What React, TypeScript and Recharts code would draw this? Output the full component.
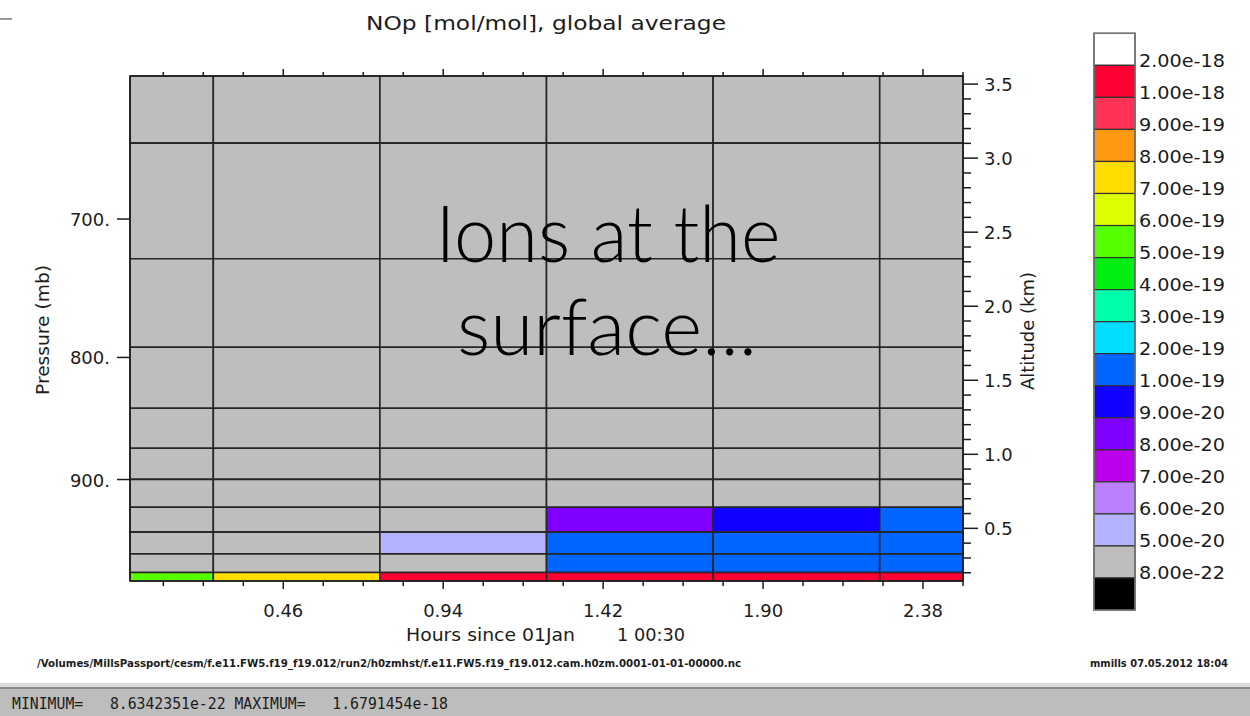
import React from 'react';
import { ComposedChart, XAxis, YAxis, ReferenceArea, Scatter } from 'recharts';

// ---------- text ----------
const chartTitle = 'NOp [mol/mol], global average';
const leftAxisTitle = 'Pressure (mb)';
const rightAxisTitle = 'Altitude (km)';
const xAxisTitleA = 'Hours since 01Jan';
const xAxisTitleB = '1 00:30';
const filePath = '/Volumes/MillsPassport/cesm/f.e11.FW5.f19_f19.012/run2/h0zmhst/f.e11.FW5.f19_f19.012.cam.h0zm.0001-01-01-00000.nc';
const stamp = 'mmills 07.05.2012 18:04';
const minMaxLine = 'MINIMUM=   8.6342351e-22 MAXIMUM=   1.6791454e-18';
const overlayLine1 = 'Ions at the';
const overlayLine2 = 'surface...';

// ---------- data ----------
const timesHours = [0, 0.5, 1.0, 1.5, 2.0, 2.5];
const levelsHPa = [609.78, 691.39, 763.4, 820.86, 859.53, 887.02, 912.64, 936.2, 957.49, 976.33, 992.56];

const nopT000 = [8.6342351e-22, 9.1e-22, 1.0e-21, 1.2e-21, 1.5e-21, 1.9e-21, 2.6e-21, 3.8e-21, 6.1e-21, 1.1e-20, 5.5e-19];
const nopT050 = [9.0e-22, 9.6e-22, 1.1e-21, 1.4e-21, 1.8e-21, 2.4e-21, 3.5e-21, 5.6e-21, 1.0e-20, 2.1e-20, 7.6e-19];
const nopT100 = [9.3e-22, 1.0e-21, 1.2e-21, 1.6e-21, 2.2e-21, 3.1e-21, 5.0e-21, 2.1e-20, 5.4e-20, 4.3e-20, 1.25e-18];
const nopT150 = [9.6e-22, 1.1e-21, 1.4e-21, 1.9e-21, 2.7e-21, 4.0e-21, 3.2e-20, 8.5e-20, 1.3e-19, 1.2e-19, 1.46e-18];
const nopT200 = [1.0e-21, 1.2e-21, 1.5e-21, 2.2e-21, 3.2e-21, 5.1e-21, 4.1e-20, 9.4e-20, 1.5e-19, 1.4e-19, 1.6e-18];
const nopT250 = [1.0e-21, 1.3e-21, 1.7e-21, 2.5e-21, 3.8e-21, 6.3e-21, 4.6e-20, 1.05e-19, 1.6e-19, 1.5e-19, 1.6791454e-18];
const nopByTime = [nopT000, nopT050, nopT100, nopT150, nopT200, nopT250];

// ---------- ticks ----------
const xMajorTicks = [0.46, 0.94, 1.42, 1.9, 2.38];
const xMinorTicks = [0.1, 0.22, 0.34, 0.58, 0.7, 0.82, 1.06, 1.18, 1.3, 1.54, 1.66, 1.78, 2.02, 2.14, 2.26, 2.5];
const pressureTicks = [700, 800, 900];
const altMajorTicks = [0.5, 1.0, 1.5, 2.0, 2.5, 3.0, 3.5];
const altMinorTicks = [0.2, 0.3, 0.4, 0.6, 0.7, 0.8, 0.9, 1.1, 1.2, 1.3, 1.4, 1.6, 1.7, 1.8, 1.9, 2.1, 2.2, 2.3, 2.4, 2.6, 2.7, 2.8, 2.9, 3.1, 3.2, 3.3, 3.4];

// ---------- colour scale ----------
const shadeBounds = [8e-22, 5e-20, 6e-20, 7e-20, 8e-20, 9e-20, 1e-19, 2e-19, 3e-19, 4e-19, 5e-19, 6e-19, 7e-19, 8e-19, 9e-19, 1e-18, 2e-18];
const shadeLabels = ['8.00e-22', '5.00e-20', '6.00e-20', '7.00e-20', '8.00e-20', '9.00e-20', '1.00e-19', '2.00e-19', '3.00e-19', '4.00e-19', '5.00e-19', '6.00e-19', '7.00e-19', '8.00e-19', '9.00e-19', '1.00e-18', '2.00e-18'];
const shadeColors = ['#000000', '#bebebe', '#b3b3ff', '#bb80ff', '#bb00ee', '#8000ff', '#1100ff', '#0066ff', '#00ddff', '#00ffaa', '#00ee11', '#55ff00', '#ddff00', '#ffdd00', '#ff9911', '#ff3355', '#ff0033', '#ffffff'];

// ---------- helpers ----------
const SCALE_HEIGHT_KM = 7;
const P_REF = 1013.25;
const toAlt = (p: number) => SCALE_HEIGHT_KM * Math.log(P_REF / p);
const toPres = (z: number) => P_REF * Math.exp(-z / SCALE_HEIGHT_KM);

const colorFor = (v: number) => {
  let k = 0;
  for (const b of shadeBounds) if (v >= b) k++;
  return shadeColors[k];
};

const INK = '#1c1c1c';
const GRID = '#262626';
const FONT = '"DejaVu Sans", sans-serif';

const altBottom = toAlt(levelsHPa[levelsHPa.length - 1]);
const altTop = toAlt(levelsHPa[0]);
const xDomain: [number, number] = [timesHours[0], timesHours[timesHours.length - 1]];
const yDomain: [number, number] = [altBottom, altTop];

type Cell = { x1: number; x2: number; y1: number; y2: number; fill: string; cx: number; cy: number };
const cells: Cell[] = [];
timesHours.forEach((t, i) => {
  const x1 = i === 0 ? t : (timesHours[i - 1] + t) / 2;
  const x2 = i === timesHours.length - 1 ? t : (t + timesHours[i + 1]) / 2;
  levelsHPa.forEach((p, j) => {
    const pTop = j === 0 ? p : (levelsHPa[j - 1] + p) / 2;
    const pBot = j === levelsHPa.length - 1 ? p : (p + levelsHPa[j + 1]) / 2;
    cells.push({ x1, x2, y1: toAlt(pBot), y2: toAlt(pTop), fill: colorFor(nopByTime[i][j]), cx: t, cy: toAlt(p) });
  });
});

const near = (a: number, list: number[]) => list.some((b) => Math.abs(a - b) < 1e-6);
const xAllTicks = [...xMajorTicks, ...xMinorTicks].sort((a, b) => a - b);
const altAllTicks = [...altMajorTicks, ...altMinorTicks].sort((a, b) => a - b);

const BottomTick = (props: any) => {
  const { x, y, payload } = props;
  const major = near(payload.value, xMajorTicks);
  return (
    <g>
      <line x1={x} y1={y} x2={x} y2={y + (major ? 8 : 5)} stroke={INK} strokeWidth={1.5} />
      {major && (
        <text x={x} y={y + 36} textAnchor="middle" fontFamily={FONT} fontSize={18} fill={INK}>
          {payload.value.toFixed(2)}
        </text>
      )}
    </g>
  );
};

const TopTick = (props: any) => {
  const { x, y, payload } = props;
  const major = near(payload.value, xMajorTicks);
  return <line x1={x} y1={y} x2={x} y2={y - (major ? 7 : 4)} stroke={INK} strokeWidth={1.5} />;
};

const LeftTick = (props: any) => {
  const { x, y, payload } = props;
  return (
    <g>
      <line x1={x - 13} y1={y} x2={x} y2={y} stroke={INK} strokeWidth={1.5} />
      <text x={x - 20} y={y + 7} textAnchor="end" fontFamily={FONT} fontSize={18} fill={INK}>
        {`${Math.round(toPres(payload.value))}.`}
      </text>
    </g>
  );
};

const RightTick = (props: any) => {
  const { x, y, payload } = props;
  const major = near(payload.value, altMajorTicks);
  return (
    <g>
      <line x1={x} y1={y} x2={x + (major ? 15 : 8)} y2={y} stroke={INK} strokeWidth={1.5} />
      {major && (
        <text x={x + 21} y={y + 7} textAnchor="start" fontFamily={FONT} fontSize={18} fill={INK}>
          {payload.value.toFixed(1)}
        </text>
      )}
    </g>
  );
};

const NoShape = () => <g />;

const CB_X = 1094;
const CB_TOP = 33.3;
const CB_W = 41;
const CB_H = 32.04;

export default function App() {
  const colorsTopDown = [...shadeColors].reverse();
  const labelsTopDown = [...shadeLabels].reverse();
  return (
    <div style={{ position: 'absolute', left: 0, top: 0, width: 1250, height: 716, background: '#ffffff' }}>
      <ComposedChart width={1250} height={716} data={cells} margin={{ top: 60, right: 227, bottom: 95, left: 70 }}>
        <XAxis
          xAxisId="b"
          dataKey="cx"
          type="number"
          orientation="bottom"
          domain={xDomain}
          allowDataOverflow
          ticks={xAllTicks}
          interval={0}
          tickSize={0}
          tickMargin={0}
          tickLine={false}
          axisLine={{ stroke: INK, strokeWidth: 1.5 }}
          tick={BottomTick}
          height={40}
        />
        <XAxis
          xAxisId="t"
          dataKey="cx"
          type="number"
          orientation="top"
          domain={xDomain}
          allowDataOverflow
          ticks={xAllTicks}
          interval={0}
          tickSize={0}
          tickMargin={0}
          tickLine={false}
          axisLine={{ stroke: INK, strokeWidth: 1.5 }}
          tick={TopTick}
          height={16}
        />
        <YAxis
          yAxisId="l"
          dataKey="cy"
          type="number"
          orientation="left"
          domain={yDomain}
          allowDataOverflow
          ticks={pressureTicks.map(toAlt)}
          interval={0}
          tickSize={0}
          tickMargin={0}
          tickLine={false}
          axisLine={{ stroke: INK, strokeWidth: 1.5 }}
          tick={LeftTick}
          width={60}
        />
        <YAxis
          yAxisId="r"
          dataKey="cy"
          type="number"
          orientation="right"
          domain={yDomain}
          allowDataOverflow
          ticks={altAllTicks}
          interval={0}
          tickSize={0}
          tickMargin={0}
          tickLine={false}
          axisLine={{ stroke: INK, strokeWidth: 1.5 }}
          tick={RightTick}
          width={60}
        />
        <Scatter xAxisId="b" yAxisId="l" dataKey="cy" shape={NoShape} isAnimationActive={false} />
        <Scatter xAxisId="t" yAxisId="r" dataKey="cy" shape={NoShape} isAnimationActive={false} />
        {cells.map((c, k) => (
          <ReferenceArea
            key={k}
            xAxisId="b"
            yAxisId="l"
            x1={c.x1}
            x2={c.x2}
            y1={c.y1}
            y2={c.y2}
            fill={c.fill}
            fillOpacity={1}
            stroke={GRID}
            strokeWidth={1.6}
            ifOverflow="visible"
          />
        ))}
      </ComposedChart>

      <svg width={1250} height={716} style={{ position: 'absolute', left: 0, top: 0, pointerEvents: 'none' }}>
        <line x1={0} y1={19} x2={12} y2={19} stroke="#9a9a9a" strokeWidth={2} />
        <text x={546} y={30} textAnchor="middle" fontFamily={FONT} fontSize={20} fill={INK} textLength={360} lengthAdjust="spacingAndGlyphs">
          {chartTitle}
        </text>
        <text transform="translate(49,330) rotate(-90)" textAnchor="middle" fontFamily={FONT} fontSize={18} fill={INK} textLength={130} lengthAdjust="spacingAndGlyphs">
          {leftAxisTitle}
        </text>
        <text transform="translate(1034,331) rotate(-90)" textAnchor="middle" fontFamily={FONT} fontSize={18} fill={INK} textLength={118} lengthAdjust="spacingAndGlyphs">
          {rightAxisTitle}
        </text>
        <text x={406} y={641} fontFamily={FONT} fontSize={18} fill={INK} textLength={169} lengthAdjust="spacingAndGlyphs">
          {xAxisTitleA}
        </text>
        <text x={617} y={641} fontFamily={FONT} fontSize={18} fill={INK} textLength={68} lengthAdjust="spacingAndGlyphs">
          {xAxisTitleB}
        </text>

        {colorsTopDown.map((col, i) => (
          <rect key={'cb' + i} x={CB_X} y={CB_TOP + i * CB_H} width={CB_W} height={CB_H} fill={col} stroke="#333" strokeWidth={1.2} />
        ))}
        <rect x={CB_X} y={CB_TOP} width={CB_W} height={CB_H * colorsTopDown.length} fill="none" stroke="#777" strokeWidth={1.5} />
        {labelsTopDown.map((lab, i) => (
          <text key={'cl' + i} x={1139} y={CB_TOP + (i + 1) * CB_H + 1.5} fontFamily={FONT} fontSize={17} fill={INK} textLength={86} lengthAdjust="spacingAndGlyphs">
            {lab}
          </text>
        ))}

        <text x={37} y={667} fontFamily={FONT} fontSize={10} fontWeight="bold" fill={INK} textLength={704} lengthAdjust="spacingAndGlyphs">
          {filePath}
        </text>
        <text x={1090} y={667} fontFamily={FONT} fontSize={10} fontWeight="bold" fill={INK} textLength={138} lengthAdjust="spacingAndGlyphs">
          {stamp}
        </text>

        <rect x={0} y={683} width={1250} height={4} fill="#dcdcdc" />
        <rect x={0} y={687} width={1250} height={2} fill="#8a8a8a" />
        <rect x={0} y={689} width={1250} height={27} fill="#bdbdbd" />
        <text x={12} y={709} fontFamily='"DejaVu Sans Mono", monospace' fontSize={15} fill={INK} textLength={436} lengthAdjust="spacingAndGlyphs" style={{ whiteSpace: 'pre' }}>
          {minMaxLine}
        </text>

        <text x={608} y={262} textAnchor="middle" fontFamily="Lato, 'Liberation Sans', sans-serif" fontWeight={300} fontSize={78} fill="#000" textLength={345} lengthAdjust="spacingAndGlyphs">
          {overlayLine1}
        </text>
        <text x={607} y={355} textAnchor="middle" fontFamily="Lato, 'Liberation Sans', sans-serif" fontWeight={300} fontSize={78} fill="#000" textLength={300} lengthAdjust="spacingAndGlyphs">
          {overlayLine2}
        </text>
      </svg>
    </div>
  );
}
